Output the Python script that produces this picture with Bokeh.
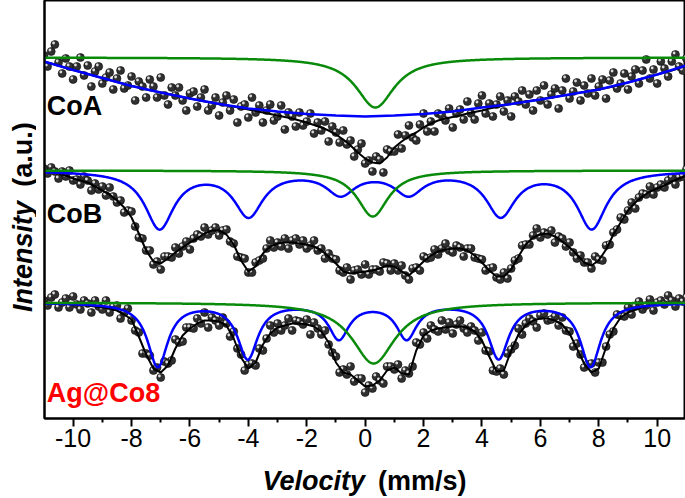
import numpy as np
from bokeh.plotting import figure
from bokeh.layouts import column, row
from bokeh.models import Range1d, FixedTicker, Label, ColumnDataSource
from bokeh.transform import dodge
from bokeh.core.properties import value
from bokeh.embed import file_html
from bokeh.resources import INLINE

# ---------------- data (intensity in a.u., velocity in mm/s) ----------------
v_min, v_max = -11.0, 11.0
n_channels = 177          # measured channels
n_fit = 89                # fit curve sampling

coa_counts = [363, 352, 367, 374, 356, 345, 360, 352, 339, 352, 361, 343, 353, 332, 347, 352, 335, 341, 346, 329,
              340, 348, 330, 333, 342, 318, 337, 332, 321, 339, 332, 321, 341, 323, 314, 331, 323, 331, 318, 308,
              325, 327, 312, 321, 329, 308, 313, 321, 303, 316, 323, 308, 319, 296, 312, 314, 301, 321, 306, 313,
              296, 308, 314, 298, 302, 313, 289, 306, 302, 292, 306, 293, 297, 305, 285, 296, 288, 297, 277, 292,
              286, 276, 288, 274, 278, 262, 269, 275, 255, 258, 247, 262, 259, 246, 269, 267, 267, 284, 270, 283,
              293, 281, 278, 294, 305, 287, 297, 287, 305, 303, 298, 310, 291, 305, 309, 299, 317, 305, 299, 315,
              323, 305, 315, 302, 314, 322, 307, 318, 302, 322, 317, 328, 314, 324, 308, 328, 318, 333, 314, 324,
              330, 310, 328, 340, 320, 327, 336, 318, 333, 325, 340, 323, 332, 339, 320, 338, 346, 330, 335, 345,
              329, 342, 349, 335, 348, 359, 340, 349, 335, 357, 350, 342, 357, 364, 352, 348, 360]

cob_counts = [250, 245, 251, 247, 240, 247, 242, 248, 238, 239, 234, 242, 238, 228, 235, 229, 232, 223, 231, 222,
              216, 218, 206, 208, 207, 192, 181, 180, 168, 168, 154, 157, 149, 162, 162, 161, 171, 165, 172, 177,
              169, 180, 184, 182, 191, 184, 188, 191, 183, 188, 189, 177, 175, 162, 161, 160, 146, 146, 156, 158,
              160, 170, 178, 171, 176, 172, 180, 170, 178, 180, 174, 178, 170, 173, 178, 168, 170, 160, 165, 160,
              159, 148, 146, 151, 139, 148, 149, 144, 154, 144, 149, 149, 147, 156, 155, 148, 155, 148, 153, 143,
              139, 150, 151, 148, 162, 160, 161, 169, 164, 170, 175, 168, 166, 173, 171, 162, 170, 170, 161, 160,
              159, 148, 150, 151, 141, 139, 146, 140, 150, 158, 160, 173, 174, 174, 183, 190, 181, 186, 184, 188,
              176, 182, 180, 172, 176, 166, 160, 163, 156, 156, 150, 162, 159, 158, 173, 174, 186, 189, 201, 199,
              208, 216, 210, 221, 225, 224, 232, 224, 231, 234, 231, 238, 241, 234, 241, 242, 249]

ag_counts = [118, 113, 121, 124, 111, 116, 120, 111, 122, 114, 109, 118, 115, 106, 118, 112, 109, 118, 106, 112,
             113, 100, 106, 110, 98, 88, 86, 65, 65, 63, 48, 51, 41, 57, 55, 58, 79, 76, 77, 91,
             91, 90, 100, 95, 106, 91, 101, 98, 93, 101, 95, 82, 87, 70, 64, 48, 54, 55, 53, 70,
             68, 80, 93, 86, 95, 88, 93, 100, 88, 98, 97, 94, 99, 84, 96, 90, 84, 88, 74, 66,
             62, 46, 49, 44, 52, 37, 40, 40, 26, 33, 30, 42, 38, 35, 52, 52, 49, 54, 40, 48,
             45, 52, 76, 74, 86, 80, 93, 89, 87, 98, 89, 96, 85, 94, 98, 90, 86, 92, 88, 78,
             86, 68, 67, 48, 47, 50, 44, 65, 69, 73, 90, 84, 95, 100, 97, 91, 103, 105, 98, 99,
             102, 93, 101, 88, 87, 72, 75, 64, 51, 54, 55, 46, 56, 56, 72, 84, 87, 104, 103, 102,
             111, 104, 112, 117, 109, 113, 119, 108, 116, 118, 114, 123, 118, 112, 120, 117, 121]

# total fits (step 0.25 mm/s)
coa_fit = [357, 355, 353, 350.5, 348.5, 346.5, 344.5, 342.5, 340.5, 338.5, 336.5, 334.5, 332.5, 331, 329, 327.5,
           326, 324.5, 323, 321.5, 320, 318.5, 317, 316, 314.5, 313, 312, 310.5, 309, 307.5, 306, 304.5,
           303, 301.5, 300, 298, 296, 293.5, 291, 288, 284, 279, 273, 266, 260, 256, 255, 261,
           271, 277, 282, 286, 291, 295, 298, 300, 301.5, 303, 305, 306.5, 308, 310, 311.5, 313,
           314.5, 316, 317, 318, 319, 320.5, 321.5, 323, 324, 325.5, 326.5, 328, 329, 330.5, 332, 334,
           336, 338, 340, 342, 344, 346, 348, 350.5, 353]

cob_fit = [248, 247, 245, 243, 240, 238, 236, 232, 228, 224, 218, 211, 201, 185, 168, 157,
           155, 160, 166, 171, 176, 180, 185, 188, 188, 184, 174, 158, 147, 152, 165, 172,
           175, 176, 176, 175, 174, 172, 168, 162, 155, 147, 145, 146, 147, 148, 150, 153,
           152, 147, 143, 150, 157, 163, 167, 169, 170, 170, 168, 163, 156, 148, 142, 142,
           149, 162, 174, 181, 184, 185, 182, 177, 171, 164, 156, 153, 158, 169, 184, 196,
           208, 216, 222, 227, 230, 233, 237, 240, 243]

ag_fit = [115, 115, 115, 115, 114, 114, 113, 112, 111, 110, 108, 104, 99, 82, 64, 50,
          46, 53, 70, 83, 90, 95, 98, 98, 97, 93, 80, 61, 50, 56, 74, 85,
          91, 93, 95, 95, 94, 92, 87, 76, 56, 46, 44, 38, 32, 33, 38, 48,
          51, 45, 44, 68, 83, 88, 90, 91, 92, 92, 91, 87, 78, 62, 47, 48,
          68, 84, 93, 98, 100, 100, 98, 94, 85, 70, 55, 46, 50, 71, 90, 101,
          106, 109, 111, 113, 114, 115, 115, 115, 115]

# CoA broad distribution component (read at 1 mm/s steps)
coa_broad_v = [-11, -10, -9, -8, -7, -6, -5, -4, -3, -2, -1, 0, 1, 2, 3, 4, 5, 6, 7, 8, 9, 10, 11]
coa_broad = [357, 348.5, 340.5, 332.5, 326, 320, 314.5, 310, 307, 304.5, 303, 302,
             303, 304.5, 307, 311, 314.5, 319, 324, 329, 336, 344, 353]

# baselines of the three spectra
baselines = {"CoA": 361, "CoB": 248, "Ag@Co8": 116}

# singlet components: centre (mm/s), depth (a.u.), half width (mm/s)
singlet_center = {"CoA": 0.35, "CoB": 0.26, "Ag@Co8": 0.29}
singlet_depth = {"CoA": 50, "CoB": 46, "Ag@Co8": 61}
singlet_hwhm = {"CoA": 0.8, "CoB": 0.65, "Ag@Co8": 0.9}

# sextet components
cob_sextet_pos = [-7.04, -3.99, -0.84, 1.49, 4.64, 7.76]
cob_sextet_depth = [57, 44, 22, 22, 44, 57]
cob_sextet_hwhm = 0.6
ag_sextet_pos = [-7.10, -4.02, -0.90, 1.42, 4.57, 7.72]
ag_sextet_depth = [63.5, 55, 35, 35, 55, 63.5]
ag_sextet_hwhm = 0.42

x_ticks = [-10, -8, -6, -4, -2, 0, 2, 4, 6, 8, 10]
x_tick_labels = ["-10", "-8", "-6", "-4", "-2", "0", "2", "4", "6", "8", "10"]
x_minor = [-11, -9, -7, -5, -3, -1, 1, 3, 5, 7, 9, 11]

sample_names = ["CoA", "CoB", "Ag@Co8"]
sample_colors = ["black", "black", "#ff0000"]

# ---------------- helpers ----------------
vel = np.linspace(v_min, v_max, n_channels)
vel_fit = np.linspace(v_min, v_max, n_fit)
vel_comp = np.linspace(v_min, v_max, 1101)


def lorentz(v, centers, depths, hwhm):
    out = np.zeros_like(v)
    for c, d in zip(centers, depths):
        out += d * hwhm ** 2 / ((v - c) ** 2 + hwhm ** 2)
    return out


def singlet(name):
    return baselines[name] - lorentz(vel_comp, [singlet_center[name]], [singlet_depth[name]], singlet_hwhm[name])


FONT = "Liberation Sans"
TITLE_SIZE = "27px"

# ---------------- main figure ----------------
p = figure(width=649, height=458, x_range=Range1d(-10.98, 10.97), y_range=Range1d(0, 418),
           output_backend="svg", toolbar_location=None,
           min_border_left=8, min_border_right=0, min_border_top=0, min_border_bottom=40)
p.grid.visible = False
p.outline_line_color = "black"
p.outline_line_width = 2
p.background_fill_color = "white"
p.border_fill_color = "white"

p.xaxis.ticker = FixedTicker(ticks=x_ticks, minor_ticks=x_minor)
p.xaxis.major_label_overrides = {t: lab for t, lab in zip(x_ticks, x_tick_labels)}
p.xaxis.axis_line_width = 2
p.xaxis.major_tick_in = 0
p.xaxis.major_tick_out = 8
p.xaxis.minor_tick_in = 0
p.xaxis.minor_tick_out = 4
p.xaxis.major_tick_line_width = 2
p.xaxis.minor_tick_line_width = 2
p.xaxis.major_label_text_font = FONT
p.xaxis.major_label_text_font_size = "25px"
p.xaxis.major_label_text_color = "black"
p.xaxis.major_label_standoff = 2

p.yaxis.ticker = FixedTicker(ticks=[])
p.yaxis.axis_line_width = 2
p.yaxis.major_tick_out = 0
p.yaxis.major_label_standoff = 0
p.yaxis.major_label_text_font_size = "0px"

# data points (sphere look: dark body + small highlight)
for counts in (coa_counts, cob_counts, ag_counts):
    src = ColumnDataSource(dict(x=vel, y=np.array(counts, dtype=float)))
    p.scatter("x", "y", source=src, size=8, fill_color="#303030", line_color="#0a0a0a", line_width=0.6)
    p.scatter(dodge("x", -0.045, range=p.x_range), dodge("y", 1.5, range=p.y_range), source=src,
              size=2.8, fill_color="#dcdcdc", line_color=None)

# total fits
for fit in (coa_fit, cob_fit, ag_fit):
    p.line(vel_fit, np.array(fit, dtype=float), line_color="black", line_width=2)

# sextet / broad components
p.line(coa_broad_v, coa_broad, line_color="#0000ff", line_width=2.5)
p.line(vel_comp, baselines["CoB"] - lorentz(vel_comp, cob_sextet_pos, cob_sextet_depth, cob_sextet_hwhm),
       line_color="#0000ff", line_width=2.5)
p.line(vel_comp, baselines["Ag@Co8"] - lorentz(vel_comp, ag_sextet_pos, ag_sextet_depth, ag_sextet_hwhm),
       line_color="#0000ff", line_width=2.5)

# singlets
for name in sample_names:
    p.line(vel_comp, singlet(name), line_color="#0a8a0a", line_width=2.5)

# sample labels
label_y = {"CoA": 298, "CoB": 190, "Ag@Co8": 11}
for name, col in zip(sample_names, sample_colors):
    p.add_layout(Label(x=-10.9, y=label_y[name], text=name, text_font=FONT, text_font_style="bold",
                       text_font_size="27px", text_color=col))

# ---------------- axis title panels ----------------
# (the row aligns this panel's frame with the main plot frame, 418 px tall)
ylab = figure(width=36, height=458, x_range=Range1d(0, 36), y_range=Range1d(0, 418),
              x_axis_type=None, y_axis_type=None,
              output_backend="svg", toolbar_location=None,
              min_border=0, outline_line_color=None)
ylab.grid.visible = False
ylab.text(x=[22], y=[162], text=["Intensity"], angle=np.pi / 2, text_font=value(FONT),
          text_font_style="bold italic", text_font_size=TITLE_SIZE, text_align="center",
          text_baseline="middle", text_color="black")
ylab.text(x=[22], y=[264], text=["(a.u.)"], angle=np.pi / 2, text_font=value(FONT),
          text_font_style="bold", text_font_size=TITLE_SIZE, text_align="center",
          text_baseline="middle", text_color="black")

xlab = figure(width=685, height=40, x_range=Range1d(0, 685), y_range=Range1d(0, 40),
              x_axis_type=None, y_axis_type=None,
              output_backend="svg", toolbar_location=None,
              min_border=0, outline_line_color=None)
xlab.grid.visible = False
xlab.text(x=[262], y=[18], text=["Velocity"], text_font=value(FONT), text_font_style="bold italic",
          text_font_size=TITLE_SIZE, text_align="left", text_baseline="alphabetic", text_color="black")
xlab.text(x=[466], y=[18], text=["(mm/s)"], text_font=value(FONT), text_font_style="bold",
          text_font_size=TITLE_SIZE, text_align="right", text_baseline="alphabetic", text_color="black")

layout = column(row(ylab, p, spacing=0), xlab, spacing=0)

open("out.html", "w").write(file_html(layout, INLINE))
